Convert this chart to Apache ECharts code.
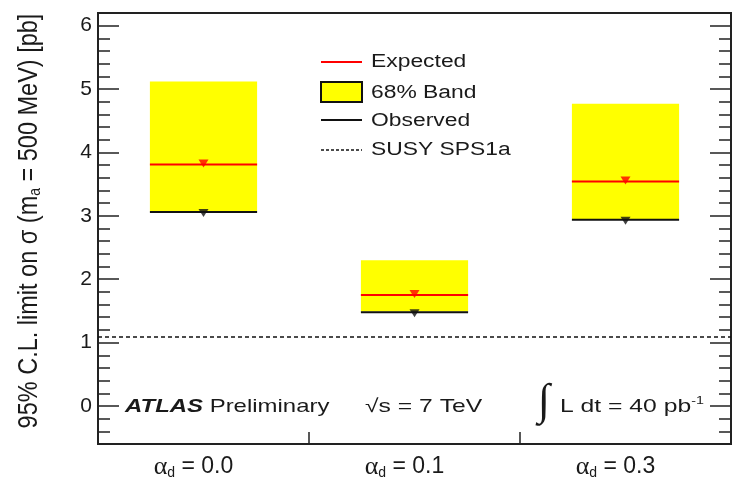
<!DOCTYPE html>
<html>
<head>
<meta charset="utf-8">
<script src="https://cdn.jsdelivr.net/npm/echarts@6/dist/echarts.min.js"></script>
<style>
  html, body { margin: 0; padding: 0; background: #fff; }
  #chart { width: 736px; height: 486px; }
</style>
</head>
<body>
<div id="chart"></div>
<script>
// Dark-photon limit values per alpha_d point
var categories = ['0.0', '0.1', '0.3'];
var expected   = [3.81, 1.75, 3.54];
var observed   = [3.06, 1.48, 2.94];
var bandLow    = [3.07, 1.49, 2.95];
var bandHigh   = [5.12, 2.30, 4.77];
var susyLimit  = 1.09;
var yTicks     = [0, 1, 2, 3, 4, 5, 6];

var FONT = '"Liberation Sans", Arial, Helvetica, sans-serif';
var chart = echarts.init(document.getElementById('chart'));

function bandItem(params, api) {
  var i = params.dataIndex;
  var half = api.size([1, 0])[0] * 0.254;
  var lo = api.coord([i, api.value(1)]);
  var hi = api.coord([i, api.value(2)]);
  var ex = api.coord([i, api.value(3)]);
  var ob = api.coord([i, api.value(4)]);
  return {
    type: 'group',
    children: [
      { type: 'rect', shape: { x: lo[0] - half, y: hi[1], width: 2 * half, height: lo[1] - hi[1] },
        style: { fill: '#ffff00' } },
      { type: 'line', shape: { x1: ex[0] - half, y1: ex[1], x2: ex[0] + half, y2: ex[1] },
        style: { stroke: '#ff0000', lineWidth: 2 } },
      { type: 'line', shape: { x1: ob[0] - half, y1: ob[1], x2: ob[0] + half, y2: ob[1] },
        style: { stroke: '#111', lineWidth: 2 } }
    ]
  };
}

var bandData = categories.map(function (c, i) {
  return [i, bandLow[i], bandHigh[i], expected[i], observed[i]];
});

function yAxisDef(pos, major) {
  return {
    type: 'value', position: pos, min: -0.6, max: 6.2,
    interval: 0.2,
    axisLine: { show: false },
    splitLine: { show: false },
    axisTick: major
      ? { show: true, inside: true, length: 21, customValues: yTicks, lineStyle: { color: '#222', width: 1.5 } }
      : { show: true, inside: true, length: 12, lineStyle: { color: '#222', width: 1.5 } },
    axisLabel: {
      show: pos === 'left' && major,
      customValues: yTicks,
      margin: 6,
      color: '#1a1a1a', fontFamily: FONT, fontSize: 21
    }
  };
}

chart.setOption({
  animation: false,
  grid: { left: 98, right: 5, top: 13, bottom: 42, show: true, borderColor: '#222', borderWidth: 2, backgroundColor: 'transparent' },
  xAxis: {
    type: 'category', data: categories, boundaryGap: true,
    axisLine: { show: false, onZero: false },
    axisTick: { show: true, inside: true, length: 12, interval: 0, lineStyle: { color: '#222', width: 1.5 } },
    axisLabel: {
      margin: 10, interval: 0, padding: [0, 20, 0, 0],
      formatter: function (v) { return '{g|α}{s|d}{t| = ' + v + '}'; },
      rich: {
        g: { fontFamily: '"Liberation Serif", serif', fontSize: 26, color: '#1a1a1a' },
        s: { fontFamily: FONT, fontSize: 14, color: '#1a1a1a', padding: [12, 0, 0, 0] },
        t: { fontFamily: FONT, fontSize: 23, color: '#1a1a1a' }
      }
    }
  },
  yAxis: [yAxisDef('left', false), yAxisDef('left', true), yAxisDef('right', false), yAxisDef('right', true)],
  series: [
    {
      type: 'custom', renderItem: bandItem, data: bandData,
      encode: { x: 0, y: [1, 2] }, z: 2,
      markLine: {
        silent: true, symbol: 'none', label: { show: false },
        lineStyle: { color: '#111', type: [4, 3], width: 1.5 },
        data: [{ yAxis: susyLimit }]
      }
    },
    {
      type: 'scatter', data: expected, symbol: 'triangle', symbolRotate: 180,
      symbolSize: [10, 8], symbolOffset: [0, -1], itemStyle: { color: '#ff0000' }, z: 5
    },
    {
      type: 'scatter', data: observed, symbol: 'triangle', symbolRotate: 180,
      symbolSize: [10, 8], symbolOffset: [0, 1], itemStyle: { color: '#111' }, z: 5
    }
  ],
  graphic: [
    // legend
    { type: 'line', shape: { x1: 321, y1: 62, x2: 362, y2: 62 }, style: { stroke: '#ff0000', lineWidth: 2 } },
    { type: 'text', x: 371, y: 62, style: { text: 'Expected', font: '18px ' + FONT, fill: '#1a1a1a', verticalAlign: 'middle' }, scaleX: 1.27 },
    { type: 'rect', shape: { x: 321, y: 82, width: 41, height: 20 }, style: { fill: '#ffff00', stroke: '#111', lineWidth: 2 } },
    { type: 'text', x: 371, y: 93, style: { text: '68% Band', font: '18px ' + FONT, fill: '#1a1a1a', verticalAlign: 'middle' }, scaleX: 1.27 },
    { type: 'line', shape: { x1: 321, y1: 120, x2: 362, y2: 120 }, style: { stroke: '#111', lineWidth: 2 } },
    { type: 'text', x: 371, y: 121, style: { text: 'Observed', font: '18px ' + FONT, fill: '#1a1a1a', verticalAlign: 'middle' }, scaleX: 1.27 },
    { type: 'line', shape: { x1: 321, y1: 150, x2: 362, y2: 150 }, style: { stroke: '#111', lineWidth: 1.5, lineDash: [3, 2] } },
    { type: 'text', x: 371, y: 150, style: { text: 'SUSY SPS1a', font: '18px ' + FONT, fill: '#1a1a1a', verticalAlign: 'middle' }, scaleX: 1.27 },
    // y axis title
    { type: 'text', x: 30, y: 221, rotation: Math.PI / 2, scaleY: 1.15,
      style: {
        text: '95% C.L. limit on σ (m{s|a} = 500 MeV) [pb]',
        font: '23.5px ' + FONT, fill: '#1a1a1a', align: 'center', verticalAlign: 'middle',
        rich: { s: { font: '14px ' + FONT, fill: '#1a1a1a', padding: [10, 0, 0, 0] } }
      }
    },
    // experiment labels
    { type: 'text', x: 125, y: 407, scaleX: 1.26,
      style: {
        text: '{b|ATLAS} Preliminary', font: '19px ' + FONT, fill: '#1a1a1a', verticalAlign: 'middle',
        rich: { b: { font: 'italic bold 19px ' + FONT, fill: '#1a1a1a' } }
      }
    },
    { type: 'text', x: 365, y: 407, scaleX: 1.3,
      style: { text: '√s = 7 TeV', font: '19px ' + FONT, fill: '#1a1a1a', verticalAlign: 'middle' } },
    { type: 'text', x: 538, y: 402, style: { text: '∫', font: '44px "Liberation Serif", serif', fill: '#1a1a1a', verticalAlign: 'middle' } },
    { type: 'text', x: 560, y: 407, scaleX: 1.3,
      style: {
        text: 'L dt = 40 pb{p|-1}', font: '19px ' + FONT, fill: '#1a1a1a', verticalAlign: 'middle',
        rich: { p: { font: '11px ' + FONT, fill: '#1a1a1a', padding: [0, 0, 12, 0] } }
      }
    }
  ]
});
</script>
</body>
</html>
